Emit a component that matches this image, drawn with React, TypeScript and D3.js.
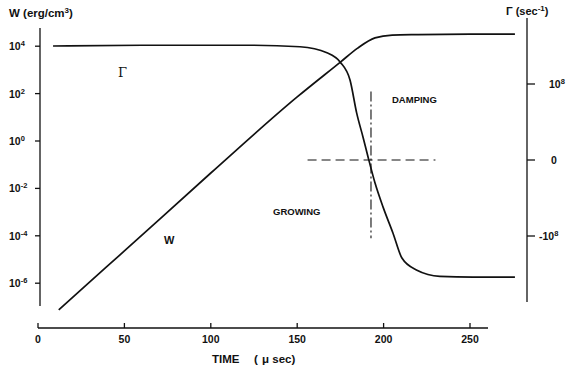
import * as d3 from "d3";

// time in microseconds, W in erg/cm^3 (log10), Gamma in 1e8 sec^-1
const wTime = [12, 25, 50, 100, 150, 175, 185, 195, 205, 220, 250, 276];
const wLog = [-7.13, -6.27, -4.64, -1.35, 1.86, 3.33, 3.92, 4.35, 4.47, 4.49, 4.51, 4.51];

const gTime = [8.7, 60, 122.7, 151.6, 167.2, 174.8, 180.6, 184.4, 188.1, 191, 195, 199.7, 205.4, 210.6, 219.3, 232.6, 251.7, 276];
const gVal = [1.5, 1.51, 1.51, 1.49, 1.41, 1.29, 1.05, 0.62, 0.3, 0.04, -0.3, -0.62, -0.96, -1.29, -1.45, -1.53, -1.54, -1.54];

const xTicks = [0, 50, 100, 150, 200, 250];
const wTickExp = [4, 2, 0, -2, -4, -6];
const gTicks = [1, 0, -1];

// reference lines: zero-crossing of Gamma
const zeroDashTime = [156, 230];
const crossTime = 192.7;
const crossGamma = [0.9, -1.03];

const W = 566;
const H = 371;
const font = "'Liberation Sans', Arial, sans-serif";

export default function App() {
  const x = d3.scaleLinear().domain([0, 250]).range([38, 470]);
  const yW = d3.scaleLinear().domain([-8, 6]).range([330.6, -1.2]);
  const yG = d3.scaleLinear().domain([-2, 2]).range([312, 8]);

  const wLine = d3
    .line<number>()
    .x((_, i) => x(wTime[i]))
    .y((d) => yW(d))
    .curve(d3.curveMonotoneX);
  const gLine = d3
    .line<number>()
    .x((_, i) => x(gTime[i]))
    .y((d) => yG(d))
    .curve(d3.curveMonotoneX);

  const axisY = 328;
  const leftX = 40;
  const rightX = 527;

  return (
    <svg
      width={W}
      height={H}
      style={{ position: "absolute", left: 0, top: 0, background: "#fff" }}
      fontFamily={font}
      fontWeight="bold"
    >
      {/* axes */}
      <g stroke="#111" strokeWidth={1.3} fill="none">
        <line x1={38} x2={488} y1={axisY} y2={axisY} />
        <line x1={leftX} x2={leftX} y1={28} y2={306} />
        <line x1={rightX} x2={rightX} y1={18} y2={302} />
        {xTicks.map((t) => (
          <line key={t} x1={x(t)} x2={x(t)} y1={axisY} y2={axisY - 5} />
        ))}
        {wTickExp.map((e) => (
          <line key={e} x1={leftX - 5} x2={leftX} y1={yW(e)} y2={yW(e)} />
        ))}
        {gTicks.map((g) => (
          <line key={g} x1={rightX} x2={rightX + 8} y1={yG(g)} y2={yG(g)} />
        ))}
      </g>

      {/* tick labels */}
      <g fontSize={10.5} fill="#111">
        {xTicks.map((t) => (
          <text key={t} x={x(t)} y={axisY + 15} textAnchor="middle">
            {t}
          </text>
        ))}
        {wTickExp.map((e) => (
          <text key={e} x={9} y={yW(e) + 4}>
            10
            <tspan dy={-4} fontSize={7.5}>
              {e < 0 ? `-${-e}` : e}
            </tspan>
          </text>
        ))}
        {gTicks.map((g) =>
          g === 0 ? (
            <text key={g} x={551} y={yG(g) + 4}>
              0
            </text>
          ) : (
            <text key={g} x={g > 0 ? 549 : 539} y={yG(g) + 4}>
              {g > 0 ? "10" : "-10"}
              <tspan dy={-4} fontSize={7.5}>
                8
              </tspan>
            </text>
          )
        )}
      </g>

      {/* axis titles */}
      <g fill="#111">
        <text x={9} y={17} fontSize={11.5}>
          W (erg/cm
          <tspan dy={-4} fontSize={8}>3</tspan>
          <tspan dy={4}>)</tspan>
        </text>
        <text x={506} y={15} fontSize={11}>
          Γ (sec
          <tspan dy={-4} fontSize={8}>-1</tspan>
          <tspan dy={4}>)</tspan>
        </text>
        <text x={212} y={363} fontSize={11.5}>
          TIME
          <tspan x={254}>(</tspan>
          <tspan x={262}>μ sec)</tspan>
        </text>
      </g>

      {/* reference lines */}
      <line
        x1={x(zeroDashTime[0])}
        x2={x(zeroDashTime[1])}
        y1={yG(0)}
        y2={yG(0)}
        stroke="#111"
        strokeWidth={1.1}
        strokeDasharray="9 5"
      />
      <line
        x1={x(crossTime)}
        x2={x(crossTime)}
        y1={yG(crossGamma[0])}
        y2={yG(crossGamma[1])}
        stroke="#111"
        strokeWidth={1.1}
        strokeDasharray="10 3 2 3"
      />

      {/* curves */}
      <path d={wLine(wLog) ?? ""} fill="none" stroke="#111" strokeWidth={1.7} />
      <path d={gLine(gVal) ?? ""} fill="none" stroke="#111" strokeWidth={1.7} />

      {/* annotations */}
      <g fill="#111">
        <text x={118} y={77} fontSize={13} fontWeight="normal" fontFamily="'DejaVu Serif', serif">
          Γ
        </text>
        <text x={164} y={244} fontSize={11}>W</text>
        <text x={392} y={103} fontSize={9.5}>DAMPING</text>
        <text x={273} y={215} fontSize={9.5}>GROWING</text>
      </g>
    </svg>
  );
}
